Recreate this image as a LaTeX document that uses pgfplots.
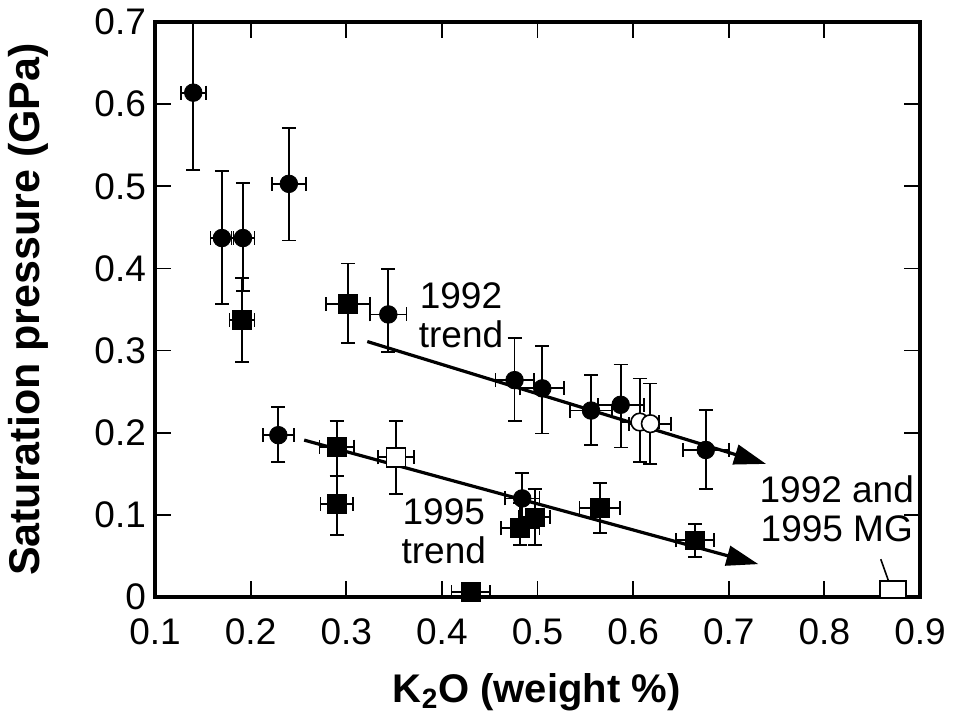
\documentclass[border=0pt]{standalone}
\usepackage{fontspec}
\setmainfont{Liberation Sans}
\usepackage{pgfplots}
\usepackage{pgfplotstable}
\pgfplotsset{compat=1.18}
\usetikzlibrary{arrows.meta}

\pgfplotstableread{
x y ex eyp eym
0.140 0.614 0.013 0.110 0.094
0.170 0.437 0.012 0.082 0.080
0.192 0.437 0.012 0.067 0.064
0.240 0.503 0.018 0.068 0.069
0.229 0.197 0.016 0.034 0.033
0.344 0.344 0.019 0.055 0.046
0.476 0.264 0.020 0.051 0.050
0.505 0.254 0.023 0.052 0.055
0.556 0.227 0.022 0.043 0.042
0.587 0.234 0.024 0.049 0.052
0.676 0.179 0.024 0.049 0.048
0.484 0.120 0.018 0.031 0.030
}\filledcircles

\pgfplotstableread{
x y ex eyp eym
0.607 0.213 0.020 0.053 0.049
0.618 0.211 0.022 0.049 0.049
}\opencircles

\pgfplotstableread{
x y ex eyp eym
0.191 0.337 0.013 0.051 0.051
0.302 0.357 0.023 0.049 0.048
0.290 0.183 0.018 0.031 0.036
0.290 0.113 0.017 0.034 0.038
0.430 0.006 0.020 0.000 0.000
0.482 0.084 0.020 0.030 0.021
0.497 0.097 0.016 0.034 0.034
0.565 0.108 0.021 0.031 0.030
0.665 0.069 0.020 0.020 0.020
}\filledsquares

\pgfplotstableread{
x y ex eyp eym
0.352 0.170 0.019 0.044 0.045
}\opensquares

\pgfplotsset{
  myerr/.style={
    error bars/x dir=both, error bars/x explicit,
    error bars/y dir=both, error bars/y explicit,
    error bars/error bar style={line width=0.9pt, black},
    error bars/error mark options={rotate=90, line width=0.9pt, mark size=3.5pt, black},
  },
}

\begin{document}
\begin{tikzpicture}
\path[use as bounding box] (-77.5pt,-61pt) rectangle (400pt,298.5pt);
\begin{axis}[
  at={(0,0)}, anchor=south west,
  scale only axis, width=382.5pt, height=287.5pt,
  xmin=0.1, xmax=0.9, ymin=0, ymax=0.7,
  xtick={0.1,0.2,0.3,0.4,0.5,0.6,0.7,0.8,0.9},
  xticklabels={0.1,0.2,0.3,0.4,0.5,0.6,0.7,0.8,0.9},
  ytick={0,0.1,0.2,0.3,0.4,0.5,0.6,0.7},
  yticklabels={0,0.1,0.2,0.3,0.4,0.5,0.6,0.7},
  tick align=inside,
  major tick length=8pt,
  tick style={line width=0.9pt, black},
  axis line style={line width=2pt},
  ticklabel style={font=\fontsize{18.5}{20}\selectfont},
  xticklabel style={yshift=-7.5pt},
  yticklabel style={xshift=-1pt},
  xlabel={K\textsubscript{2}O (weight \%)},
  ylabel={Saturation pressure (GPa)},
  xlabel style={at={(axis description cs:0.499,-0.165)}, anchor=center, font=\bfseries\fontsize{20}{22}\selectfont},
  ylabel style={at={(axis description cs:-0.165,0.5)}, anchor=center, font=\bfseries\fontsize{21.5}{23}\selectfont},
]
% trend arrows
\addplot[line width=1.6pt, -{Triangle[length=16pt,width=10pt]}] coordinates {(0.322,0.311) (0.739,0.162)};
\addplot[line width=1.6pt, -{Triangle[length=16pt,width=10pt]}] coordinates {(0.256,0.191) (0.731,0.040)};
% pointer
\addplot[line width=0.8pt] coordinates {(0.859,0.046) (0.870,0.010)};

\addplot[only marks, mark=*, mark size=4.4pt, mark options={fill=black, draw=black}, myerr]
  table[x=x, y=y, x error=ex, y error plus=eyp, y error minus=eym] {\filledcircles};
\addplot[only marks, mark=*, mark size=4.4pt, mark options={fill=white, draw=black, line width=0.8pt}, myerr]
  table[x=x, y=y, x error=ex, y error plus=eyp, y error minus=eym] {\opencircles};
\addplot[only marks, mark=square*, mark size=4.7pt, mark options={fill=black, draw=black}, myerr]
  table[x=x, y=y, x error=ex, y error plus=eyp, y error minus=eym] {\filledsquares};
\addplot[only marks, mark=square*, mark size=4.7pt, mark options={fill=white, draw=black, line width=0.8pt}, myerr]
  table[x=x, y=y, x error=ex, y error plus=eyp, y error minus=eym] {\opensquares};
\addplot[only marks, mark=square*, mark size=4.25pt, mark options={fill=white, draw=black, line width=1pt, xscale=1.53}]
  coordinates {(0.872,0.009)};

\node[align=center, font=\fontsize{18.5}{19.5}\selectfont] at (axis cs:0.42,0.343) {1992\\trend};
\node[align=center, font=\fontsize{18.5}{19.5}\selectfont] at (axis cs:0.402,0.080) {1995\\trend};
\node[align=center, font=\fontsize{18.5}{19.5}\selectfont] at (axis cs:0.813,0.108) {1992 and\\1995 MG};
\end{axis}
\end{tikzpicture}
\end{document}
